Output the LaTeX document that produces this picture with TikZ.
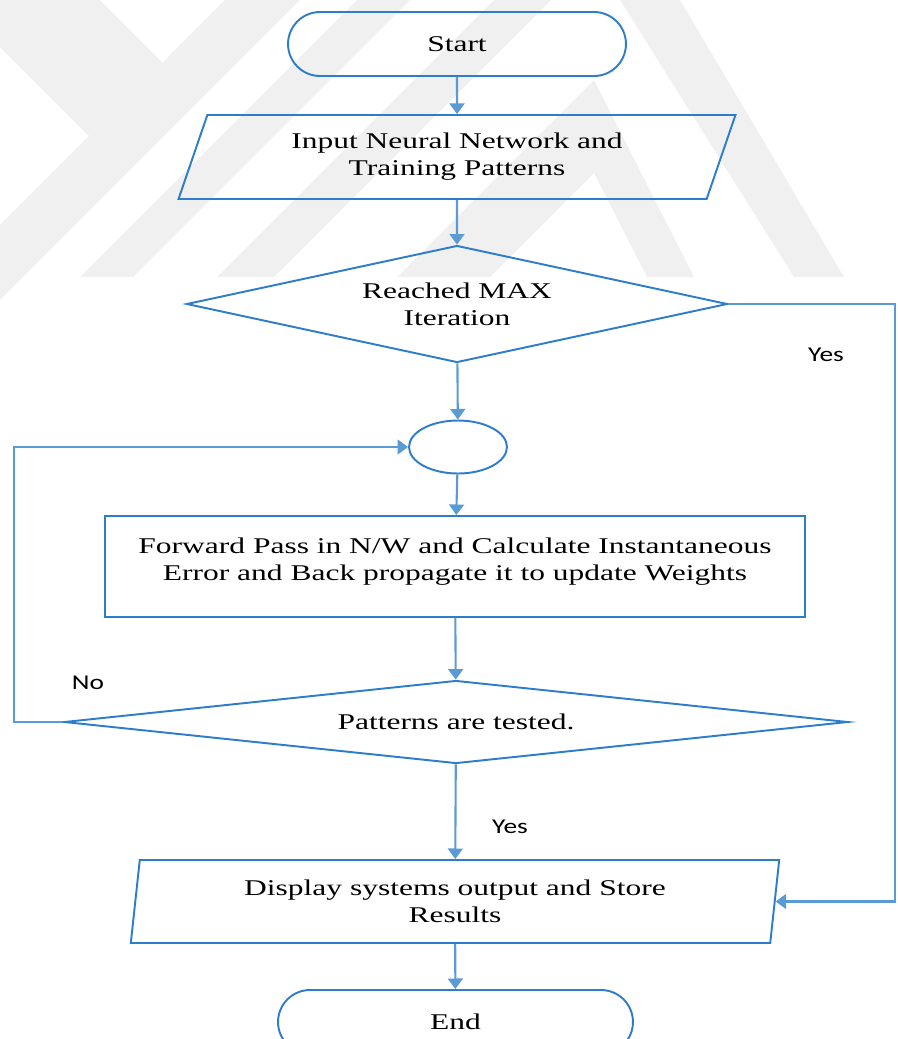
\documentclass[tikz,border=0pt]{standalone}
\usepackage{fontspec}
\setmainfont{Liberation Serif}[FakeStretch=1.4]
\newfontfamily\labelfont{Carlito}[FakeStretch=1.3]
\usetikzlibrary{shapes.geometric,shapes.misc,arrows.meta}

\definecolor{shapeblue}{HTML}{2E7DCB}
\definecolor{lineblue}{HTML}{5B9BD5}
\definecolor{markgray}{HTML}{F0F0F0}

\tikzset{
  terminal/.style={draw=shapeblue, line width=1.1pt, rounded rectangle,
    minimum width=6.76cm, minimum height=1.28cm, inner sep=0pt},
  io/.style={draw=shapeblue, line width=1.1pt, trapezium, trapezium stretches=true,
    align=center, inner sep=0pt},
  decision/.style={draw=shapeblue, line width=1.1pt, diamond, align=center, inner sep=0pt},
  process/.style={draw=shapeblue, line width=1.1pt, rectangle, align=center, inner sep=0pt},
  junction/.style={draw=shapeblue, line width=1.1pt, ellipse,
    minimum width=1.96cm, minimum height=1.06cm, inner sep=0pt},
  flowline/.style={draw=lineblue, line width=1.2pt, -{Triangle[length=6pt,width=8.5pt]}},
  answer/.style={font=\labelfont\fontsize{12}{14}\selectfont},
}

\begin{document}
\begin{tikzpicture}[x=0.02cm, y=-0.02cm, font=\fontsize{12.8}{15.3}\selectfont]
    \useasboundingbox (0,0) rectangle (897,1039);
    \clip (0,0) rectangle (897,1039);

    % watermark in the background
    \fill[markgray] (0,0) -- (100,0) -- (162.5,62.5) -- (89,136) -- (0,47) -- cycle;
    \fill[markgray] (225,0) -- (300,0) -- (0,300) -- (0,225) -- cycle;
    \fill[markgray] (357,0) -- (410,0) -- (133,277) -- (80,277) -- cycle;
    \fill[markgray] (494,0) -- (551,0) -- (274,277) -- (217,277) -- cycle;
    \fill[markgray] (620,0) -- (680,0) -- (844,277) -- (794,277) -- cycle;
    \fill[markgray] (594,80) -- (694,277) -- (647,277) -- (594,173) -- (490,277) -- (397,277) -- cycle;

    % flow chart
    \node[terminal] (start) at (457,44) {Start};
    \node[io, trapezium left angle=68, trapezium right angle=112,
          minimum width=11.16cm, minimum height=1.68cm] (input) at (457,157)
          {Input Neural Network and\\Training Patterns};
    \node[decision, aspect=4.62, minimum width=10.82cm, minimum height=2.34cm] (maxiter) at (457,304)
          {Reached MAX\\Iteration};
    \node[junction, fill=white] (join) at (458,447) {};
    \node[process, minimum width=14cm, minimum height=2.02cm] (fwd) at (455,566.5)
          {Forward Pass in N/W and Calculate Instantaneous\\Error and Back propagate it to update Weights\\[-7pt]\mbox{}};
    \node[decision, aspect=9.45, minimum width=15.68cm, minimum height=1.66cm] (tested) at (456,722)
          {Patterns are tested.};
    \node[io, trapezium left angle=82, trapezium right angle=98,
          minimum width=13cm, minimum height=1.66cm] (disp) at (455,901.5)
          {Display systems output and Store\\Results};
    \node[terminal, minimum width=7.1cm] (finish) at (455.5,1022) {End};

    \coordinate (noturn) at (14,722);
    \coordinate (maxturn) at (895,304);

    \draw[flowline] (start) -- (input);
    \draw[flowline] (input) -- (maxiter);
    \draw[flowline] (maxiter) -- (join);
    \draw[flowline] (join) -- (fwd);
    \draw[flowline] (fwd) -- (tested);
    \draw[flowline] (tested) -- (disp);
    \draw[flowline] (disp) -- (finish);
    \draw[flowline] (tested.west) -- (noturn) |- (join.west);
    \draw[flowline] (maxiter.east) -- (maxturn) |- (disp.east);

    \node[answer] (yesmax) at (826,355) {Yes};
    \node[answer] (notested) at (88,683) {No};
    \node[answer] (yestested) at (510,827) {Yes};
\end{tikzpicture}
\end{document}
